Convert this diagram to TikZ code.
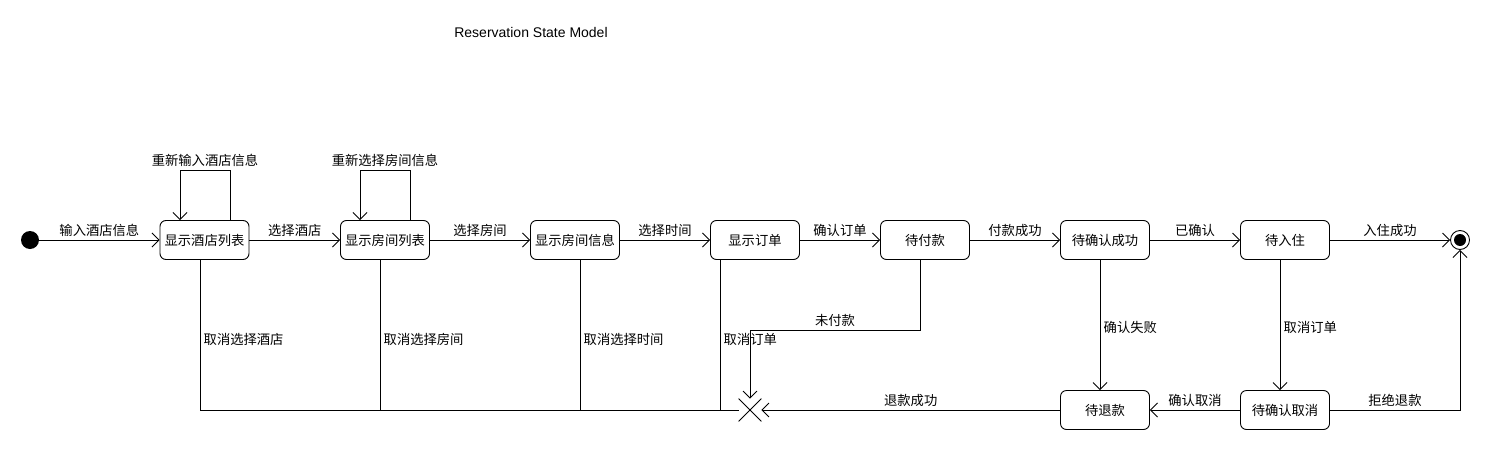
\documentclass[tikz,border=0pt]{standalone}
\usepackage{fontspec}
\setsansfont{Liberation Sans}
\newfontfamily\cjk{Noto Sans CJK SC}
\usetikzlibrary{arrows.meta,positioning,shapes.misc}

\begin{document}
\begin{tikzpicture}[
        x=1pt, y=-1pt,
        every node/.style={font=\cjk\fontsize{13.3}{15}\selectfont},
        state/.style={draw, line width=0.9pt, rounded corners=6pt, minimum width=89pt, minimum height=39pt, inner sep=2pt},
        arr/.style={-{Straight Barb[length=7pt,width=14pt]}, line width=0.8pt},
        line/.style={line width=0.8pt}
    ]
        \fill[white] (0,0) rectangle (1500,450);
        \useasboundingbox (0,0) rectangle (1500,450);

        % Title
        \node[font=\sffamily\fontsize{14}{16}\selectfont] (title) at (531,32) {Reservation State Model};

        % States
        \node[circle, fill, minimum size=18pt, inner sep=0pt] (init) at (30,240) {};
        \node[state] (hotels) at (204.5,240) {显示酒店列表};
        \node[state] (rooms) at (385,240) {显示房间列表};
        \node[state] (roominfo) at (575,240) {显示房间信息};
        \node[state] (order) at (755,240) {显示订单};
        \node[state] (topay) at (925,240) {待付款};
        \node[state] (toconfirm) at (1105,240) {待确认成功};
        \node[state] (tocheckin) at (1285,240) {待入住};
        \node[state] (torefund) at (1105,410) {待退款};
        \node[state] (tocancel) at (1285,410) {待确认取消};
        \node[circle, draw, line width=0.9pt, minimum size=19pt, inner sep=0pt] (final) at (1460,240) {};
        \fill (final.center) circle (6pt);
        \node[cross out, draw, line width=0.8pt, minimum size=22pt, inner sep=0pt] (term) at (750,410) {};

        % Main flow
        \draw[arr] (init) -- node[above] {输入酒店信息} (hotels);
        \draw[arr] (hotels) -- node[above] {选择酒店} (rooms);
        \draw[arr] (rooms) -- node[above] {选择房间} (roominfo);
        \draw[arr] (roominfo) -- node[above] {选择时间} (order);
        \draw[arr] (order) -- node[above] {确认订单} (topay);
        \draw[arr] (topay) -- node[above] {付款成功} (toconfirm);
        \draw[arr] (toconfirm) -- node[above] {已确认} (tocheckin);
        \draw[arr] (tocheckin) -- node[above] {入住成功} (final);

        % Self loops
        \draw[arr] (230,0 |- hotels.north) -- (230,170) -- node[above] {重新输入酒店信息} (180,170) -- (180,0 |- hotels.north);
        \draw[arr] (410,0 |- rooms.north) -- (410,170) -- node[above] {重新选择房间信息} (360,170) -- (360,0 |- rooms.north);

        % Cancel branches
        \coordinate (j1) at (200,410);
        \coordinate (j2) at (380,410);
        \coordinate (j3) at (580,410);
        \coordinate (j4) at (720,410);
        \draw[line] (200,0 |- hotels.south) -- node[pos=0.53, right] {取消选择酒店} (j1);
        \draw[line] (380,0 |- rooms.south) -- node[pos=0.53, right] {取消选择房间} (j2);
        \draw[line] (580,0 |- roominfo.south) -- node[pos=0.53, right] {取消选择时间} (j3);
        \draw[line] (720,0 |- order.south) -- node[pos=0.53, right] {取消订单} (j4);
        \draw[line] (j1) -- (term);
        \draw[arr] (920,0 |- topay.south) |- node[pos=0.75, above] {未付款} (750,330) -- (term);

        % Refund / cancel
        \draw[arr] (1100,0 |- toconfirm.south) -- node[pos=0.52, right] {确认失败} (1100,0 |- torefund.north);
        \draw[arr] (1280,0 |- tocheckin.south) -- node[pos=0.52, right] {取消订单} (1280,0 |- tocancel.north);
        \draw[arr] (tocancel) -- node[above] {确认取消} (torefund);
        \draw[arr] (torefund) -- node[above] {退款成功} (term);
        \draw[arr] (tocancel) -| node[pos=0.25, above] {拒绝退款} (final);
    \end{tikzpicture}
\end{document}
